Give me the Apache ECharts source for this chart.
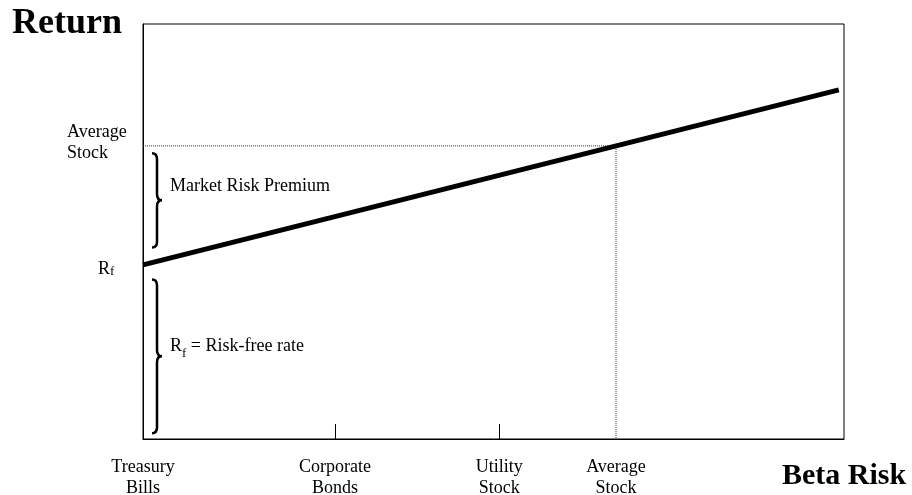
<!DOCTYPE html>
<html>
<head>
<meta charset="utf-8">
<script src="https://cdn.jsdelivr.net/npm/echarts@6/dist/echarts.min.js"></script>
<style>html,body{margin:0;padding:0;background:#fff}#c{width:912px;height:495px}</style>
</head>
<body>
<div id="c"></div>
<script>
// ---- data ----
const betaLabels = ['Treasury\nBills', 'Corporate\nBonds', 'Utility\nStock', 'Average\nStock'];
const betaValues = [0, 0.406, 0.753, 1.0];
const tickBetas = [0.406, 0.753];
const riskFree = 6;
const marketReturn = 10.1;
const averageBeta = 1.0;
const smlBeta = [0, 1.471];
const smlReturn = [6, 12.03];
const returnTickValues = [6, 10.1];
const returnTickLabels = ['Rf', 'Average\nStock'];
const braceLow = [6.6, 0.2];
const braceHigh = [9.85, 5.5];
const braceLabels = ['Market Risk Premium', 'Rf = Risk-free rate'];
const betaMax = 1.482;
const returnMax = 14.3;

const FONT = "'Liberation Serif', 'Times New Roman', serif";
const braceLabelOffsets = [-14, -10];

const chart = echarts.init(document.getElementById('c'), null, {renderer: 'canvas'});

const smlData = smlBeta.map((b, i) => [b, smlReturn[i]]);
const refData = [[0, marketReturn], [averageBeta, marketReturn], [averageBeta, 0]];
const braceData = braceLow.map((lo, i) => [0, lo, braceHigh[i], i]);

const subRich = {
  r: {fontFamily: FONT, fontSize: 18, color: '#000'},
  s: {fontFamily: FONT, fontSize: 13, color: '#000', verticalAlign: 'bottom', padding: [0, 0, -5, 0]},
  t: {fontFamily: FONT, fontSize: 18, color: '#000'}
};

function labelRich(txt) {
  if (txt.indexOf('Rf') === 0) {
    return '{r|R}{s|f}{t|' + txt.slice(2) + '}';
  }
  return '{t|' + txt + '}';
}

const option = {
  animation: false,
  backgroundColor: '#fff',
  grid: {left: 143, top: 24, right: 68, bottom: 56, show: true, borderColor: '#000', borderWidth: 1,
    containLabel: false, outerBoundsMode: 'none'},
  graphic: [
    {type: 'text', left: 12, top: 6, style: {text: 'Return', font: 'bold 36px ' + FONT, fill: '#000'}},
    {type: 'text', x: 782, y: 461,
      style: {text: 'Beta Risk', font: 'bold 30px ' + FONT, fill: '#000', align: 'left', verticalAlign: 'top'}}
  ],
  xAxis: {
    type: 'value', min: 0, max: betaMax,
    splitLine: {show: false},
    axisLine: {show: true, lineStyle: {color: '#000', width: 1}},
    axisTick: {show: true, inside: true, length: 15, customValues: tickBetas, lineStyle: {color: '#000', width: 1}},
    axisLabel: {
      show: true, customValues: betaValues, margin: 18,
      fontFamily: FONT, fontSize: 18, lineHeight: 21, color: '#000', align: 'center',
      formatter: function (v) {
        const i = betaValues.indexOf(v);
        return i >= 0 ? betaLabels[i] : '';
      }
    }
  },
  yAxis: {
    type: 'value', min: 0, max: returnMax,
    splitLine: {show: false},
    axisLine: {show: true, lineStyle: {color: '#000', width: 1}},
    axisTick: {show: false},
    axisLabel: {
      show: true, customValues: returnTickValues, margin: 76, align: 'left',
      fontFamily: FONT, fontSize: 18, lineHeight: 21, color: '#000',
      formatter: function (v) {
        const i = returnTickValues.indexOf(v);
        if (i < 0) return '';
        const t = returnTickLabels[i];
        if (t === 'Rf') return '{rp|R}{s|f}';
        return '{a|' + t.split('\n').join('}\n{a|') + '}\n{e|}';
      },
      rich: {
        rp: {fontFamily: FONT, fontSize: 18, color: '#000', padding: [8, 0, 0, 31]},
        s: {fontFamily: FONT, fontSize: 13, color: '#000', padding: [14, 0, 0, 0]},
        a: {fontFamily: FONT, fontSize: 18, color: '#000', lineHeight: 21},
        e: {fontSize: 1, lineHeight: 6}
      }
    }
  },
  series: [
    {
      name: 'ref', type: 'line', data: refData, symbol: 'none', silent: true,
      lineStyle: {color: '#333', width: 1, type: [1, 1]}
    },
    {
      name: 'SML', type: 'line', data: smlData, symbol: 'none', silent: true,
      lineStyle: {color: '#000', width: 5, cap: 'butt'},
      markPoint: {
        symbol: 'none', silent: true,
        data: [{coord: [1.294, 10.06], value: 'SML',
          label: {show: true, formatter: 'SML', position: 'inside', align: 'left', verticalAlign: 'middle',
            fontFamily: FONT, fontSize: 29, color: '#000'}}]
      }
    },
    {
      name: 'braces', type: 'custom', data: braceData, silent: true,
      encode: {x: 0, y: [1, 2]},
      renderItem: function (params, api) {
        const idx = api.value(3);
        const top = api.coord([api.value(0), api.value(2)]);
        const bot = api.coord([api.value(0), api.value(1)]);
        const xl = top[0] + 9, xm = xl + 5, xt = xl + 10;
        const y0 = top[1], y1 = bot[1], ym = (y0 + y1) / 2;
        const r = 6;
        const d = 'M' + xl + ',' + y0 +
          ' Q' + xm + ',' + y0 + ' ' + xm + ',' + (y0 + r) +
          ' L' + xm + ',' + (ym - r) +
          ' Q' + xm + ',' + ym + ' ' + xt + ',' + ym +
          ' Q' + xm + ',' + ym + ' ' + xm + ',' + (ym + r) +
          ' L' + xm + ',' + (y1 - r) +
          ' Q' + xm + ',' + y1 + ' ' + xl + ',' + y1;
        return {
          type: 'group',
          children: [
            {type: 'path', shape: {pathData: d}, style: {stroke: '#000', lineWidth: 2.5, fill: null}},
            {type: 'text', x: xl + 18, y: ym + braceLabelOffsets[idx],
              style: {text: labelRich(braceLabels[idx]), rich: subRich, verticalAlign: 'middle', align: 'left', fill: '#000'}}
          ]
        };
      }
    }
  ]
};
chart.setOption(option);
</script>
</body>
</html>
